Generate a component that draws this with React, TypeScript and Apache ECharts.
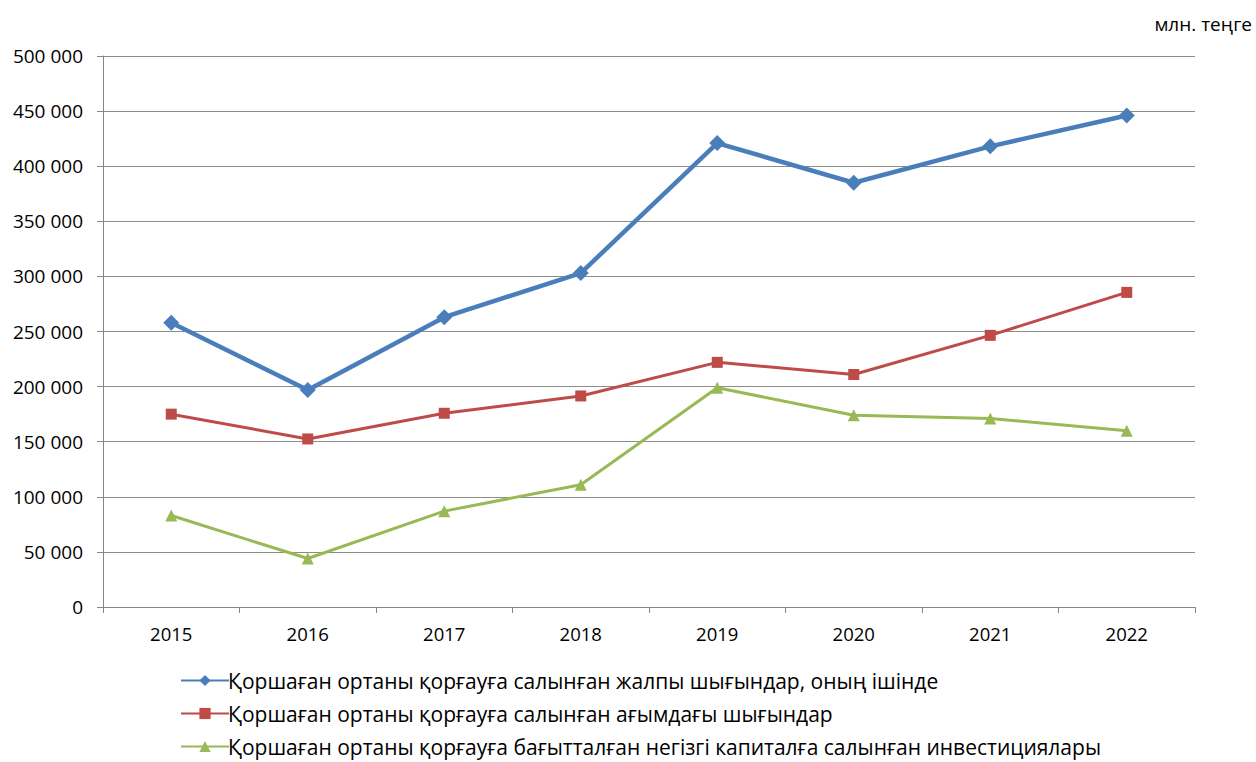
import React, { useEffect, useRef } from "react";
import * as echarts from "echarts";

const years = ["2015", "2016", "2017", "2018", "2019", "2020", "2021", "2022"];
const totalExp = [258000, 197000, 263000, 303000, 421000, 385000, 418000, 446000];
const currentExp = [175000, 152500, 175800, 191500, 222000, 211000, 246500, 285500];
const capitalInv = [83000, 44000, 87000, 111000, 199000, 174000, 171000, 160000];
const seriesNames = [
  "Қоршаған ортаны қорғауға салынған жалпы шығындар, оның ішінде",
  "Қоршаған ортаны қорғауға салынған ағымдағы шығындар",
  "Қоршаған ортаны қорғауға бағытталған негізгі капиталға салынған инвестициялары",
];
const unitLabel = "млн. теңге";

const FONT = "'Open Sans', 'Noto Sans', sans-serif";

export default function App() {
  const ref = useRef<HTMLDivElement>(null);
  useEffect(() => {
    if (!ref.current) return;
    const chart = echarts.init(ref.current, null, { renderer: "svg" });
    const legendTops = [670, 703, 736];
    chart.setOption({
      animation: false,
      backgroundColor: "#ffffff",
      textStyle: { fontFamily: FONT },
      grid: { left: 103, right: 61, top: 56, bottom: 155, containLabel: false },
      graphic: [
        {
          type: "text",
          right: 4,
          top: 14,
          style: { text: unitLabel, fill: "#000", font: `19px ${FONT}` },
        },
      ],
      legend: seriesNames.map((n, i) => ({
        orient: "vertical",
        left: 180,
        top: legendTops[i],
        padding: 0,
        itemWidth: 48,
        itemHeight: 14,
        textStyle: { color: "#000", fontSize: 21, fontFamily: FONT, padding: [0, 0, 0, -6] },
        data: [n],
      })),
      xAxis: {
        type: "category",
        data: years,
        boundaryGap: true,
        axisLine: { lineStyle: { color: "#868686", width: 1 } },
        axisTick: { show: true, length: 6, lineStyle: { color: "#868686" } },
        axisLabel: { color: "#000", fontSize: 18.5, margin: 17, fontFamily: FONT },
        splitLine: { show: false },
      },
      yAxis: {
        type: "value",
        min: 0,
        max: 500000,
        interval: 50000,
        axisLine: { show: true, lineStyle: { color: "#868686", width: 1 } },
        axisTick: { show: true, length: 6, lineStyle: { color: "#868686" } },
        axisLabel: {
          color: "#000",
          fontSize: 19,
          margin: 20,
          fontFamily: FONT,
          formatter: (v: number) => String(v).replace(/\B(?=(\d{3})+(?!\d))/g, " "),
        },
        splitLine: { show: true, lineStyle: { color: "#8c8c8c", width: 1 } },
      },
      series: [
        {
          name: seriesNames[0],
          type: "line",
          data: totalExp,
          symbol: "diamond",
          symbolSize: 16,
          lineStyle: { color: "#4A7EBB", width: 4.5 },
          itemStyle: { color: "#4A7EBB" },
          z: 4,
        },
        {
          name: seriesNames[1],
          type: "line",
          data: currentExp,
          symbol: "rect",
          symbolSize: 11,
          lineStyle: { color: "#BE4B48", width: 3 },
          itemStyle: { color: "#BE4B48" },
          z: 3,
        },
        {
          name: seriesNames[2],
          type: "line",
          data: capitalInv,
          symbol: "triangle",
          symbolSize: 12,
          lineStyle: { color: "#98B954", width: 3 },
          itemStyle: { color: "#98B954" },
          z: 2,
        },
      ],
    });
    return () => chart.dispose();
  }, []);
  return (
    <div
      ref={ref}
      style={{ position: "absolute", left: 0, top: 0, width: 1256, height: 762 }}
    />
  );
}
